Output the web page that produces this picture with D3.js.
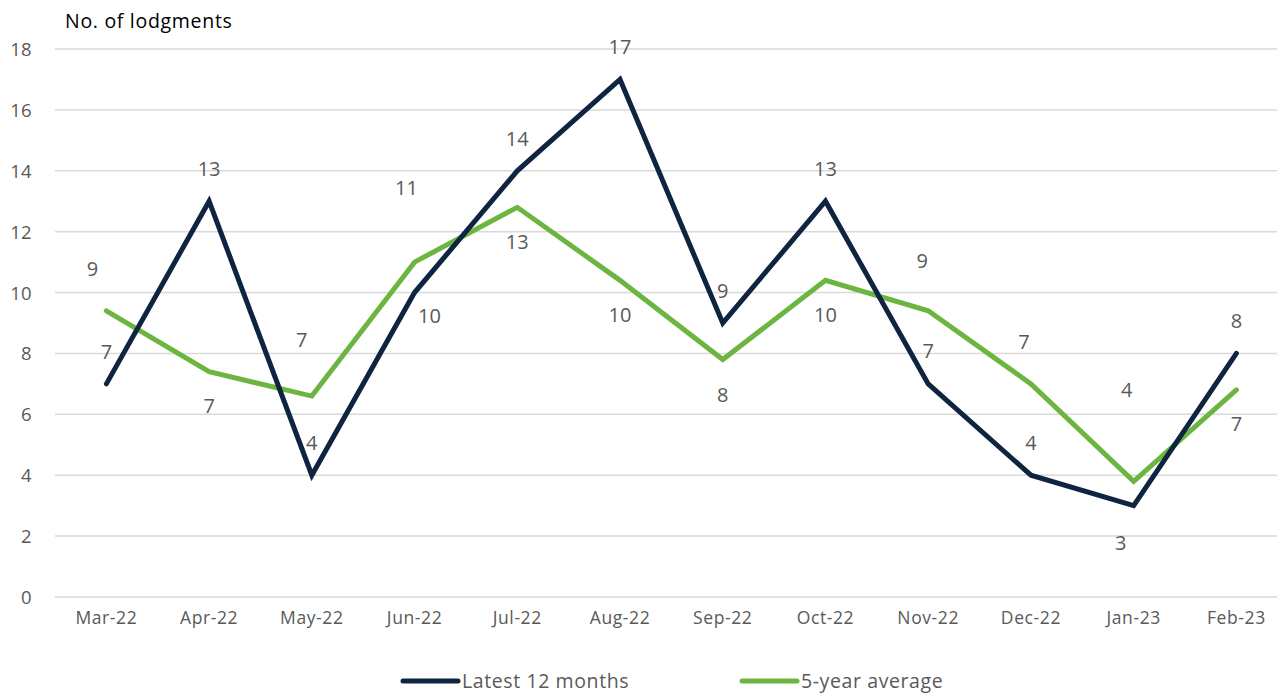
<!DOCTYPE html>
<html>
<head>
<meta charset="utf-8">
<script src="https://cdn.jsdelivr.net/npm/d3@7"></script>
<style>
  html, body { margin: 0; padding: 0; background: #ffffff; }
  svg { display: block; font-family: "Open Sans", sans-serif; }
</style>
</head>
<body>
<svg id="chart" width="1277" height="693"></svg>
<script>
// ---- data ----
const categories = ["Mar-22","Apr-22","May-22","Jun-22","Jul-22","Aug-22","Sep-22","Oct-22","Nov-22","Dec-22","Jan-23","Feb-23"];
const latest12 = [7, 13, 4, 10, 14, 17, 9, 13, 7, 4, 3, 8];
const fiveYearAvg = [9.4, 7.4, 6.6, 11.0, 12.8, 10.4, 7.8, 10.4, 9.4, 7.0, 3.8, 6.8];
const yTicks = [0, 2, 4, 6, 8, 10, 12, 14, 16, 18];
const seriesNames = ["Latest 12 months", "5-year average"];

// ---- label placement (layout, px offsets from each point) ----
const latestLabelOffsets = [[0,-32],[0,-32],[0,-32],[15,23],[0,-32],[0,-32],[0,-32],[0,-32],[0,-33],[0,-32],[-13,37],[0,-32]];
const avgLabelOffsets = [[-14,-42],[0,34],[-10,-56],[-8,-74],[0,35],[0,35],[0,35],[0,35],[-6,-50],[-7,-42],[-7,-91],[0,34]];

const W = 1277, H = 693;
const colors = ["#0e2441", "#6cb540"];
const textGray = "#595959";
const FONT = "'Open Sans', sans-serif";

const svg = d3.select("#chart");

const x = d3.scaleBand().domain(categories).range([55, 55 + 12 * 102.73]).paddingInner(0).paddingOuter(0);
const cx = d => x(d) + x.bandwidth() / 2;
const y = d3.scaleLinear().domain([0, 18]).range([597, 49]);

// gridlines
svg.append("g").selectAll("line").data(yTicks).join("line")
  .attr("x1", 55).attr("x2", W)
  .attr("y1", d => y(d)).attr("y2", d => y(d))
  .attr("stroke", "#d9d9d9").attr("stroke-width", 1.5);

// y axis labels
const yAxis = d3.axisLeft(y).tickValues(yTicks).tickSize(0).tickPadding(0);
const gy = svg.append("g").attr("transform", "translate(32,0)").call(yAxis);
gy.select(".domain").remove();
gy.selectAll("text").attr("fill", textGray).attr("font-size", 18.5).attr("font-family", FONT)
  .attr("letter-spacing", "0.3px").attr("dy", "0.35em");

// x axis labels
const xAxis = d3.axisBottom(x).tickSize(0).tickPadding(0);
const gx = svg.append("g").attr("transform", "translate(0,612)").call(xAxis);
gx.select(".domain").remove();
gx.selectAll("text").attr("fill", textGray).attr("font-size", 17.5).attr("font-family", FONT)
  .attr("letter-spacing", "0.6px").attr("dy", "0.71em");

// axis title
svg.append("text").attr("x", 65).attr("y", 28).text("No. of lodgments")
  .attr("font-size", 19.5).attr("letter-spacing", "0.7px").attr("fill", "#000").attr("font-family", FONT);

// lines
const line = d3.line().x((d, i) => cx(categories[i])).y(d => y(d));
const allSeries = [latest12, fiveYearAvg];
[fiveYearAvg, latest12].forEach((s) => {
  const idx = allSeries.indexOf(s);
  svg.append("path").datum(s)
    .attr("d", line).attr("fill", "none")
    .attr("stroke", colors[idx]).attr("stroke-width", 5)
    .attr("stroke-linejoin", "miter").attr("stroke-linecap", "round");
});

// data labels
const labelSets = [[latest12, latestLabelOffsets], [fiveYearAvg, avgLabelOffsets]];
labelSets.forEach(([s, offs]) => {
  svg.append("g").selectAll("text").data(s).join("text")
    .attr("x", (d, i) => cx(categories[i]) + offs[i][0])
    .attr("y", (d, i) => y(d) + offs[i][1])
    .attr("dy", "0.35em").attr("text-anchor", "middle")
    .attr("font-size", 20).attr("fill", textGray).attr("font-family", FONT)
    .text(d => d3.format(".0f")(d));
});

// legend
const legendX = [403, 742];
seriesNames.forEach((name, i) => {
  const g = svg.append("g");
  g.append("line").attr("x1", legendX[i]).attr("x2", legendX[i] + 55)
    .attr("y1", 681).attr("y2", 681)
    .attr("stroke", colors[i]).attr("stroke-width", 5).attr("stroke-linecap", "round");
  g.append("text").attr("x", legendX[i] + 59).attr("y", 681).attr("dy", "0.35em")
    .attr("font-size", 19.5).attr("letter-spacing", "0.6px").attr("fill", textGray).attr("font-family", FONT)
    .text(name);
});
</script>
</body>
</html>
